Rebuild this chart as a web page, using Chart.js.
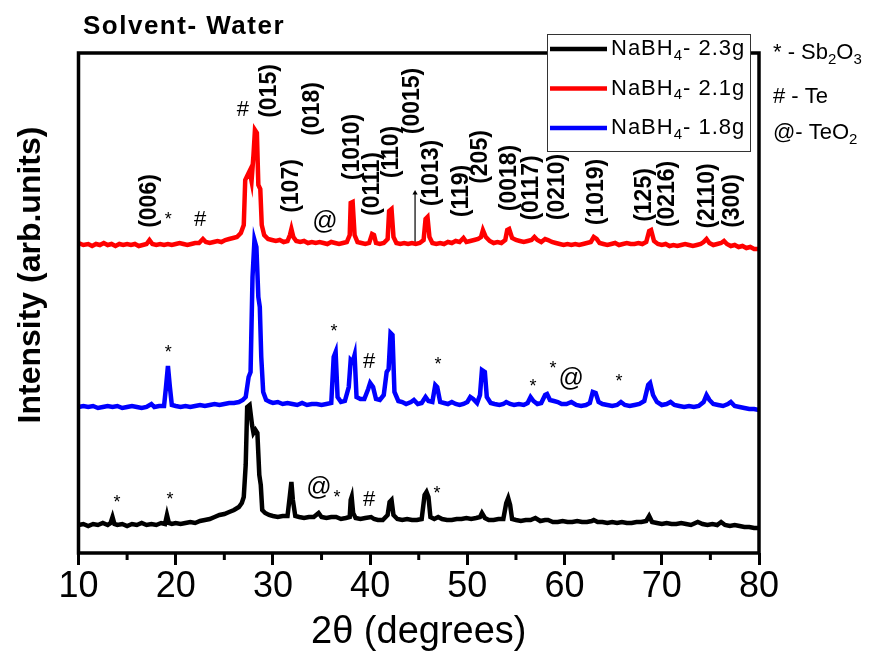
<!DOCTYPE html>
<html>
<head>
<meta charset="utf-8">
<script src="https://cdn.jsdelivr.net/npm/chart.js@4.4.1/dist/chart.umd.min.js"></script>
<style>
  body { margin: 0; background: #fff; }
  canvas { display: block; }
</style>
</head>
<body>
<canvas id="xrdChart" width="883" height="655"></canvas>
<script>
// 2theta (deg) vs intensity above each pattern's own baseline (arb. units)
const black23 = [[10,0],[10.5,1],[11,-1],[11.5,1],[12,0],[12.5,2],[13,0],[13.3,2],[13.5,8],[13.7,1],[14,0],[14.5,1],[15,-1],[15.5,1],[16,0],[16.5,2],[17,0],[17.5,1],[18,0],[18.5,2],[18.9,1],[19.1,10],[19.3,2],[19.6,1],[20,2],[20.5,1],[21,2],[21.5,3],[22,2],[22.5,4],[23,5],[23.5,6],[24,8],[24.5,10],[25,11],[25.5,13],[26,15],[26.5,18],[26.8,22],[27.0,28],[27.2,60],[27.35,118],[27.6,120],[27.85,100],[28.0,92],[28.2,95],[28.4,92],[28.6,50],[28.75,40],[28.9,15],[29.2,12],[29.6,10],[30,9],[30.5,8],[31,9],[31.5,9],[31.75,30],[31.9,43],[32.05,25],[32.3,9],[32.7,8],[33.2,7],[33.7,8],[34.2,8],[34.7,12],[35.0,8],[35.5,7],[36,8],[36.5,8],[37,6],[37.5,7],[37.9,8],[38.0,25],[38.1,28],[38.25,12],[38.5,7],[39,6],[39.5,7],[40.1,8],[40.4,6],[40.8,5],[41.3,5],[41.8,10],[42.0,23],[42.2,25],[42.4,10],[42.8,6],[43.3,5],[43.8,6],[44.3,5],[44.8,5],[45.3,6],[45.6,30],[45.8,33],[46.0,28],[46.2,8],[46.6,6],[47.0,8],[47.4,6],[47.9,5],[48.4,5],[48.9,6],[49.4,6],[49.9,7],[50.4,6],[50.9,7],[51.3,8],[51.5,12],[51.8,7],[52.2,5],[52.7,5],[53.2,6],[53.7,6],[54.0,22],[54.2,27],[54.4,20],[54.6,6],[55.0,5],[55.5,4],[56.0,5],[56.5,5],[57.0,7],[57.5,4],[58.0,5],[58.3,5],[58.8,3],[59.3,3],[59.8,4],[60.3,3],[60.8,3],[61.3,4],[61.8,3],[62.3,3],[62.8,4],[63.0,5],[63.4,3],[63.9,3],[64.4,2],[64.9,3],[65.4,2],[65.9,3],[66.4,2],[66.9,2],[67.4,3],[67.9,3],[68.4,4],[68.7,9],[69.0,3],[69.5,2],[70,1],[70.5,2],[71,1],[71.5,1],[72,2],[72.5,1],[73,0],[73.7,3],[74.2,1],[74.7,0],[75.2,1],[75.7,0],[76.1,3],[76.5,0],[77,-1],[77.5,0],[78,-1],[78.5,-2],[79,-2],[79.5,-3],[80,-3]];

const red21 = [[10,2],[10.5,0],[11,1],[11.4,-1],[11.8,1],[12.2,0],[12.6,2],[13,0],[13.4,1],[13.8,-1],[14.2,1],[14.6,0],[15,1],[15.4,0],[15.8,1],[16.2,-1],[16.6,0],[17.0,1],[17.3,5],[17.6,1],[18.0,0],[18.4,1],[18.8,0],[19.2,1],[19.6,0],[20.0,1],[20.4,2],[20.8,1],[21.2,0],[21.6,1],[22.0,2],[22.4,2],[22.8,6],[23.1,3],[23.5,2],[23.9,3],[24.3,4],[24.7,3],[25.1,5],[25.5,6],[25.9,7],[26.3,8],[26.7,12],[27.0,20],[27.15,65],[27.4,70],[27.6,74],[27.8,64],[28.0,90],[28.15,115],[28.35,112],[28.5,60],[28.7,56],[28.85,20],[29.1,10],[29.5,6],[29.9,5],[30.3,4],[30.7,5],[31.1,3],[31.5,4],[31.75,10],[31.9,16],[32.1,8],[32.4,4],[32.8,3],[33.2,4],[33.6,2],[34,3],[34.4,2],[34.8,3],[35.2,2],[35.6,1],[36,3],[36.4,2],[36.8,1],[37.2,2],[37.6,3],[37.9,10],[38.0,42],[38.2,43],[38.4,10],[38.7,3],[39.1,2],[39.5,1],[39.9,2],[40.2,11],[40.4,10],[40.6,2],[41.0,1],[41.4,2],[41.8,6],[41.95,34],[42.2,36],[42.4,8],[42.7,2],[43.1,1],[43.5,2],[43.9,1],[44.3,2],[44.7,1],[45.1,2],[45.5,5],[45.7,26],[45.9,28],[46.1,8],[46.4,2],[46.8,1],[47.2,2],[47.6,1],[48.0,3],[48.4,2],[48.8,4],[49.2,3],[49.6,7],[49.9,3],[50.3,4],[50.7,5],[51.1,6],[51.4,8],[51.6,15],[51.9,8],[52.3,4],[52.7,2],[53.1,3],[53.5,2],[53.9,5],[54.1,15],[54.3,16],[54.6,7],[55.0,5],[55.4,4],[55.8,3],[56.2,4],[56.6,5],[56.9,8],[57.2,5],[57.6,3],[58.0,6],[58.3,5],[58.7,3],[59.1,2],[59.5,1],[59.9,0],[60.3,1],[60.7,0],[61.1,1],[61.5,0],[61.9,1],[62.3,2],[62.7,3],[63.0,8],[63.3,6],[63.6,2],[64.0,1],[64.4,0],[64.8,1],[65.2,2],[65.6,0],[66.0,1],[66.4,2],[66.8,1],[67.2,1],[67.6,2],[68.0,1],[68.4,3],[68.7,14],[68.9,15],[69.2,4],[69.6,1],[70.0,0],[70.4,1],[70.8,-1],[71.2,0],[71.6,-1],[72.0,0],[72.4,1],[72.8,0],[73.2,-1],[73.6,0],[74.0,1],[74.3,3],[74.6,6],[74.9,2],[75.3,0],[75.7,1],[76.1,2],[76.4,4],[76.7,1],[77.1,-1],[77.5,0],[77.9,-2],[78.3,-1],[78.7,-3],[79.1,-2],[79.5,-4],[80,-4]];

const blue18 = [[10,0],[10.5,1],[11,0],[11.5,1],[12,-1],[12.5,0],[13,1],[13.5,0],[14,1],[14.5,-1],[15,0],[15.5,1],[16,0],[16.5,-1],[17,0],[17.5,3],[17.8,0],[18.3,1],[18.8,1],[19.0,20],[19.2,41],[19.4,20],[19.6,2],[20,1],[20.5,0],[21,1],[21.5,0],[22,1],[22.5,2],[23,1],[23.5,2],[24,3],[24.5,2],[25,3],[25.5,4],[26,4],[26.5,5],[26.9,7],[27.2,10],[27.5,30],[27.7,35],[27.9,130],[28.1,167],[28.3,160],[28.5,110],[28.65,100],[28.8,50],[29.0,15],[29.3,7],[29.7,5],[30,4],[30.5,5],[31,3],[31.5,4],[32,3],[32.5,2],[33,4],[33.5,2],[34,3],[34.5,3],[35,2],[35.5,3],[36.0,4],[36.25,50],[36.45,55],[36.65,10],[37,5],[37.4,6],[37.8,20],[38.0,47],[38.2,45],[38.4,52],[38.6,10],[39,8],[39.4,8],[39.8,18],[40.0,24],[40.3,20],[40.6,8],[41,7],[41.4,12],[41.7,35],[41.9,38],[42.1,74],[42.3,72],[42.5,15],[42.9,6],[43.3,5],[43.7,3],[44.2,5],[44.5,7],[44.9,3],[45.3,4],[45.7,10],[46.0,6],[46.4,5],[46.7,22],[46.9,20],[47.2,5],[47.6,4],[48.0,3],[48.4,5],[48.8,3],[49.2,2],[49.6,3],[50.0,5],[50.3,10],[50.6,8],[51.0,4],[51.3,12],[51.5,37],[51.8,35],[52.0,10],[52.4,4],[52.8,3],[53.3,2],[53.7,3],[54.0,5],[54.4,3],[54.8,2],[55.3,3],[55.8,2],[56.2,4],[56.5,10],[56.8,6],[57.2,3],[57.6,4],[58.0,12],[58.2,13],[58.5,7],[58.9,6],[59.3,5],[59.7,3],[60.2,3],[60.7,5],[61.2,2],[61.7,1],[62.2,2],[62.6,4],[62.9,15],[63.2,14],[63.5,5],[63.9,3],[64.4,2],[64.9,1],[65.4,2],[65.8,5],[66.2,2],[66.7,1],[67.2,2],[67.7,3],[68.2,6],[68.6,22],[68.8,24],[69.1,12],[69.5,5],[70,2],[70.5,3],[70.9,5],[71.3,2],[71.8,1],[72.3,0],[72.8,1],[73.3,0],[73.8,1],[74.3,5],[74.6,12],[74.9,7],[75.3,3],[75.8,2],[76.3,1],[76.8,3],[77.1,5],[77.5,1],[78,0],[78.5,-1],[79,-2],[79.5,-2],[80,-3]];

// vertical offsets used to stack the three patterns
const BLACK_OFFSET = 28;
const BLUE_OFFSET = 146;
const RED_OFFSET = 308;

// reference line drawn in the top pattern
const refLine = [[44.62, 1], [44.62, 52]];

const seriesLabels = ['2.3g', '2.1g', '1.8g'];
const seriesColors = ['#000000', '#ff0000', '#0000ff'];

const xTicks = [10, 20, 30, 40, 50, 60, 70, 80];
const xMinorTicks = [15, 25, 35, 45, 55, 65, 75];

// (hkl) labels over the top pattern: text, 2theta, height
const hklLabels = ['(006)','(015)','(107)','(018)','(1010)','(0111)','(110)','(0015)','(1013)','(119)','(205)','(0018)','(0117)','(0210)','(1019)','(125)','(0216)','(2110)','(300)'];
const hklTheta = [17.37, 29.70, 31.96, 34.12, 38.24, 40.30, 42.25, 44.41, 46.37, 49.45, 51.41, 54.39, 56.65, 59.33, 63.34, 68.28, 70.64, 74.76, 77.33];
const hklLevel = [352, 462, 367, 444, 406, 369, 401, 452, 380, 362, 396, 375, 365, 366, 361, 358, 359, 357, 352];

// phase markers: * Sb2O3, # Te, @ TeO2
const markSymbols = ['*','#','#','@', '*','*','#','*','*','*','@','*', '*','*','@','*','#','*'];
const markTheta = [19.22, 22.50, 26.92, 35.36, 19.22, 36.29, 39.89, 46.99, 56.76, 58.82, 60.67, 65.61, 13.96, 19.41, 34.74, 36.59, 39.89, 46.89];
const markLevel = [338, 333, 443, 331, 205, 226, 191, 193, 171, 189, 174, 176, 55, 58, 65, 60, 53, 64];

const FONT = "'Liberation Sans', Arial, sans-serif";

function toPoints(pairs, offset) {
    return pairs.map(p => ({ x: p[0], y: p[1] + offset }));
}

// text with a subscript part, e.g. NaBH4
function drawSub(ctx, parts, x, y, size) {
    parts.forEach(part => {
        if (part.sub) {
            ctx.font = `${Math.round(size * 0.7)}px ${FONT}`;
            ctx.fillText(part.t, x, y + size * 0.3);
        } else {
            ctx.font = `${size}px ${FONT}`;
            ctx.fillText(part.t, x, y);
        }
        x += ctx.measureText(part.t).width;
    });
    return x;
}

const xrdDecor = {
    id: 'xrdDecor',
    afterDraw(chart) {
        const ctx = chart.ctx;
        const a = chart.chartArea;
        const xs = chart.scales.x;
        const ys = chart.scales.y;
        ctx.save();

        // frame
        ctx.strokeStyle = '#000';
        ctx.lineWidth = 3.5;
        ctx.strokeRect(a.left, a.top, a.right - a.left, a.bottom - a.top);

        // minor ticks
        ctx.lineWidth = 3;
        xMinorTicks.forEach(v => {
            const px = xs.getPixelForValue(v);
            ctx.beginPath();
            ctx.moveTo(px, a.bottom);
            ctx.lineTo(px, a.bottom + 7);
            ctx.stroke();
        });

        ctx.fillStyle = '#000';

        // heading
        ctx.font = `bold 26px ${FONT}`;
        ctx.letterSpacing = '1.5px';
        ctx.textAlign = 'left';
        ctx.textBaseline = 'middle';
        ctx.fillText('Solvent- Water', 83, 27);
        ctx.letterSpacing = '0px';

        // y title
        ctx.save();
        ctx.translate(31, 275);
        ctx.rotate(-Math.PI / 2);
        ctx.textAlign = 'center';
        ctx.font = `bold 32px ${FONT}`;
        ctx.fillText('Intensity (arb.units)', 0, 0);
        ctx.restore();

        // hkl labels
        ctx.font = `bold 23px ${FONT}`;
        hklLabels.forEach((t, i) => {
            ctx.save();
            ctx.translate(xs.getPixelForValue(hklTheta[i]), ys.getPixelForValue(hklLevel[i]));
            ctx.rotate(-Math.PI / 2);
            ctx.textAlign = 'center';
            ctx.textBaseline = 'middle';
            ctx.fillText(t, 0, 0);
            ctx.restore();
        });

        // phase markers
        ctx.textAlign = 'center';
        ctx.textBaseline = 'middle';
        markSymbols.forEach((s, i) => {
            const px = xs.getPixelForValue(markTheta[i]);
            let py = ys.getPixelForValue(markLevel[i]);
            if (s === '*') { ctx.font = `18px ${FONT}`; py += 5; }
            else if (s === '#') ctx.font = `22px ${FONT}`;
            else ctx.font = `25px ${FONT}`;
            ctx.fillText(s, px, py);
        });

        // legend box
        ctx.fillStyle = '#fff';
        ctx.fillRect(547, 34, 203, 117);
        ctx.strokeStyle = '#333';
        ctx.lineWidth = 1;
        ctx.strokeRect(547.5, 34.5, 203, 117);
        ctx.textAlign = 'left';
        ctx.textBaseline = 'middle';
        ctx.letterSpacing = '1px';
        seriesLabels.forEach((lab, i) => {
            const ly = 49 + i * 39.5;
            ctx.strokeStyle = seriesColors[i];
            ctx.lineWidth = 4.5;
            ctx.beginPath();
            ctx.moveTo(550, ly);
            ctx.lineTo(607, ly);
            ctx.stroke();
            ctx.fillStyle = '#000';
            drawSub(ctx, [{ t: 'NaBH' }, { t: '4', sub: true }, { t: '- ' + lab }], 611, ly, 22);
        });
        ctx.letterSpacing = '0px';

        // phase key
        ctx.fillStyle = '#000';
        drawSub(ctx, [{ t: '* - Sb' }, { t: '2', sub: true }, { t: 'O' }, { t: '3', sub: true }], 773, 53, 22);
        drawSub(ctx, [{ t: '# - Te' }], 773, 97, 22);
        drawSub(ctx, [{ t: '@- TeO' }, { t: '2', sub: true }], 773, 133, 22);

        ctx.restore();
    }
};

new Chart(document.getElementById('xrdChart'), {
    type: 'line',
    data: {
        datasets: [
            { label: 'NaBH4- ' + seriesLabels[0], data: toPoints(black23, BLACK_OFFSET), borderColor: seriesColors[0], borderWidth: 4.5, pointRadius: 0 },
            { label: 'NaBH4- ' + seriesLabels[1], data: toPoints(red21, RED_OFFSET), borderColor: seriesColors[1], borderWidth: 4.5, pointRadius: 0 },
            { label: 'NaBH4- ' + seriesLabels[2], data: toPoints(blue18, BLUE_OFFSET), borderColor: seriesColors[2], borderWidth: 4.5, pointRadius: 0 },
            { label: 'ref', data: toPoints(refLine, RED_OFFSET), borderColor: '#000', borderWidth: 1.2,
              pointRadius: [0, 3], pointStyle: 'triangle', pointBackgroundColor: '#000', pointBorderWidth: 0 }
        ]
    },
    options: {
        responsive: false,
        animation: false,
        layout: { padding: { left: 78.5, right: 124, top: 53, bottom: 0 } },
        plugins: { legend: { display: false }, tooltip: { enabled: false } },
        scales: {
            x: {
                type: 'linear',
                min: 10,
                max: 80,
                afterBuildTicks: (scale) => { scale.ticks = xTicks.map(v => ({ value: v })); },
                afterFit: (scale) => { scale.height = 102; },
                ticks: { color: '#000', font: { family: FONT, size: 36 }, padding: 0, maxRotation: 0, autoSkip: false },
                grid: { drawOnChartArea: false, tickLength: 12, tickWidth: 3, tickColor: '#000' },
                border: { display: false },
                title: { display: true, text: '2θ (degrees)', color: '#000', font: { family: FONT, size: 38 }, padding: { top: 0, bottom: 0 } }
            },
            y: { display: false, min: 0, max: 500 }
        }
    },
    plugins: [xrdDecor]
});
</script>
</body>
</html>
